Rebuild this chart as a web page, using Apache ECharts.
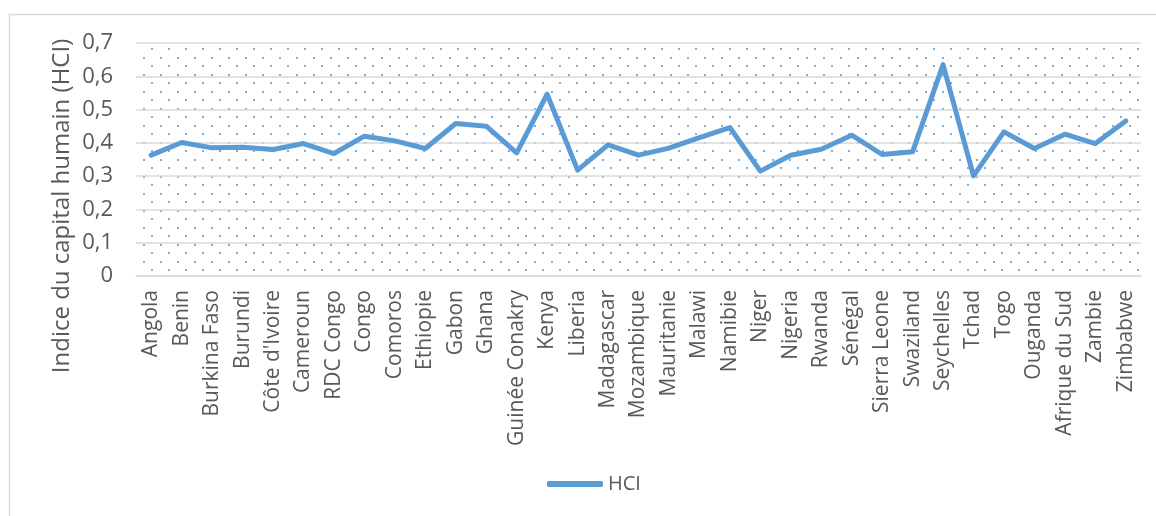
<!DOCTYPE html>
<html>
<head>
<meta charset="utf-8">
<script src="https://cdn.jsdelivr.net/npm/echarts@6/dist/echarts.min.js"></script>
<style>
html,body{margin:0;padding:0;background:#fff;}
#main{width:1156px;height:516px;}
</style>
</head>
<body>
<div id="main"></div>
<script>
var pays=["Angola","Benin","Burkina Faso","Burundi","Côte d'Ivoire","Cameroun","RDC Congo","Congo","Comoros","Ethiopie",
	"Gabon","Ghana","Guinée Conakry","Kenya","Liberia","Madagascar","Mozambique","Mauritanie","Malawi","Namibie",
	"Niger","Nigeria","Rwanda","Sénégal","Sierra Leone","Swaziland","Seychelles","Tchad","Togo","Ouganda",
	"Afrique du Sud","Zambie","Zimbabwe"];
var hci=[0.363,0.401,0.385,0.387,0.380,0.398,0.368,0.420,0.406,0.383,
	0.458,0.450,0.370,0.546,0.318,0.394,0.363,0.384,0.416,0.446,
	0.315,0.363,0.381,0.423,0.365,0.373,0.635,0.301,0.433,0.383,
	0.426,0.398,0.466];
var yMin=0, yMax=0.7, yStep=0.1;

//motif pointillé du fond
function dotPattern(){
	var c=document.createElement('canvas');
	c.width=17;c.height=17;
	var ctx=c.getContext('2d');
	ctx.fillStyle='#7aaee0';
	ctx.fillRect(15,14,2,2);
	ctx.fillRect(7,6,2,2);
	return c;
}

var font="'Open Sans'";
var myChart=echarts.init(document.getElementById('main'));
var option={
	animation:false,
	graphic:[
		{type:'rect',shape:{x:9.5,y:14.5,width:1300,height:700},style:{fill:'none',stroke:'#d9d9d9',lineWidth:1.5},silent:true},
		{type:'text',x:62,y:206,rotation:Math.PI/2,
			style:{text:'Indice du capital humain (HCI)',fill:'#595959',font:'24px '+font,align:'center',verticalAlign:'middle'}}
	],
	grid:{left:136,right:15,top:43,bottom:240,show:true,borderWidth:0,
		backgroundColor:{image:dotPattern(),repeat:'repeat'}},
	legend:{
		bottom:17,left:542,
		itemWidth:56,itemHeight:6,itemGap:5,
		textStyle:{color:'#595959',fontSize:20,fontFamily:font},
		data:[{name:'HCI',icon:'roundRect'}]
	},
	xAxis:{
		type:'category',
		data:pays,
		boundaryGap:true,
		axisLine:{lineStyle:{color:'#d9d9d9',width:1.5}},
		axisTick:{show:false},
		axisLabel:{rotate:90,interval:0,margin:14,color:'#595959',fontSize:21,fontFamily:font}
	},
	yAxis:{
		type:'value',
		min:yMin,max:yMax,interval:yStep,
		axisLine:{show:false},
		axisTick:{show:false},
		splitLine:{lineStyle:{color:'#d9d9d9',width:1.5}},
		axisLabel:{margin:23,color:'#595959',fontSize:22,fontFamily:font,
			formatter:function(v){return v==0?'0':v.toFixed(1).replace('.',',');}}
	},
	series:[{
		name:'HCI',
		type:'line',
		data:hci,
		symbol:'none',
		lineStyle:{color:'#5b9bd5',width:5,cap:'round',join:'round'},
		itemStyle:{color:'#5b9bd5'}
	}]
};
myChart.setOption(option);
</script>
</body>
</html>
